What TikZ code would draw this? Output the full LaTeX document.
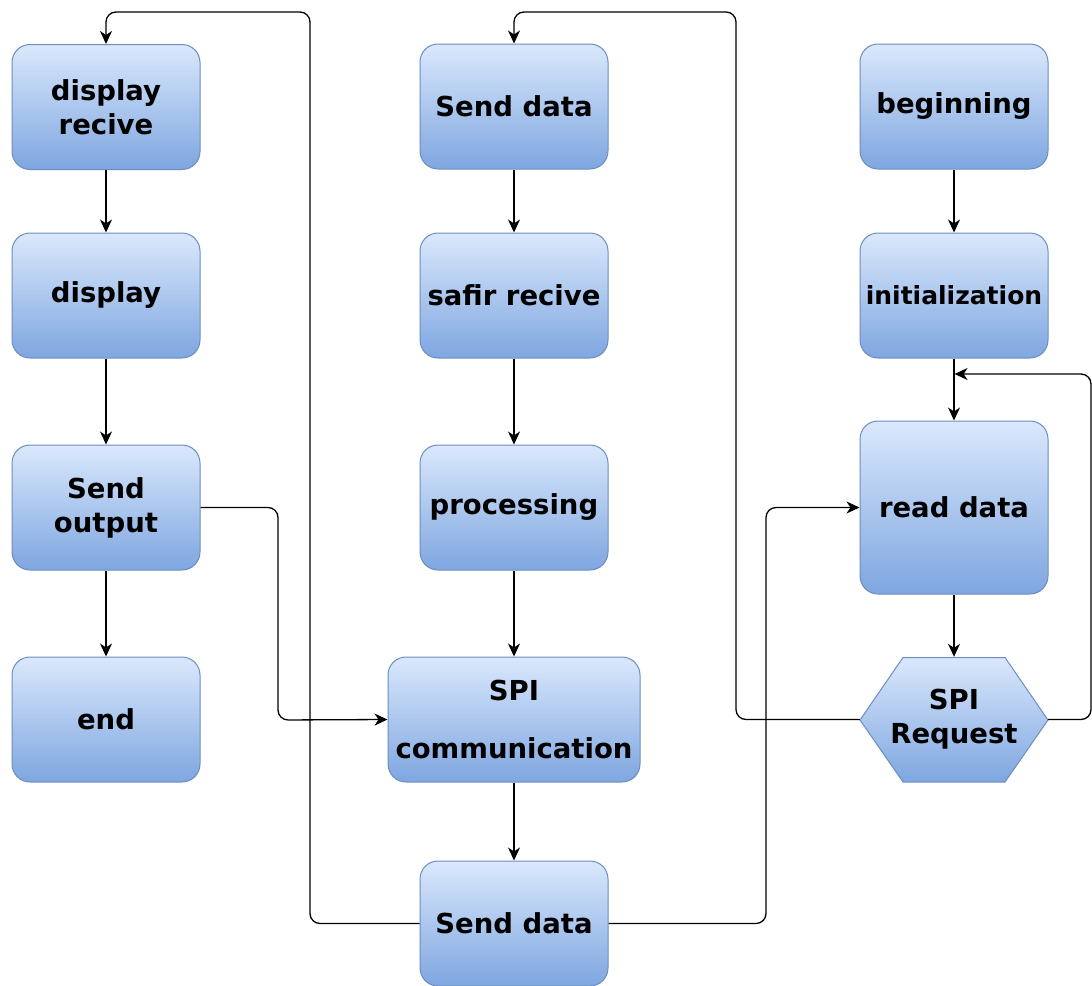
\documentclass[tikz,border=0pt]{standalone}
\usepackage{fontspec}
\setmainfont{DejaVu Sans}
\usetikzlibrary{arrows.meta,calc}
\definecolor{boxtop}{HTML}{DAE8FC}
\definecolor{boxbot}{HTML}{7EA6E0}
\definecolor{boxline}{HTML}{6C8EBF}
\tikzset{
  box/.style={draw=boxline, line width=1pt, rounded corners=18pt, top color=boxtop, bottom color=boxbot,
    minimum width=188pt, minimum height=125pt, align=center, inner sep=0pt,
    font=\fontsize{27.5}{34}\selectfont\bfseries},
  hexbox/.style={minimum width=188pt, minimum height=125pt, align=center, inner sep=0pt,
    font=\fontsize{27.5}{34}\selectfont\bfseries},
  conn/.style={draw=black, line width=1.3pt, rounded corners=10pt, -{Stealth[length=13pt,width=12pt,inset=4pt]}},
}
\begin{document}
\begin{tikzpicture}[x=1pt,y=-1pt]
\useasboundingbox (0,0) rectangle (1092,985);
% left column
\node[box] (dr) at (106,107) {display\\recive};
\node[box] (dp) at (106,295.5) {display};
\node[box] (so) at (106,507.5) {Send\\output};
\node[box] (en) at (106,719.5) {end};
% middle column
\node[box] (sd1) at (514,106.5) {Send data};
\node[box] (sr) at (514,295.5) {safir recive};
\node[box] (pr) at (514,507.5) {processing};
\node[box, minimum width=252pt] (spi) at (514,719.5) {SPI\\[24pt]communication};
\node[box] (sd2) at (514,923.5) {Send data};
% right column
\node[box] (bg) at (954,106.5) {beginning};
\node[box, font=\fontsize{25}{30}\selectfont\bfseries] (in) at (954,295.5) {initialization};
\node[box, minimum height=173pt] (rd) at (954,507.5) {read data};
\shade[top color=boxtop, bottom color=boxbot] (860,720) -- (903,657.5) -- (1005,657.5) -- (1048,720) -- (1005,782) -- (903,782) -- cycle;
\draw[boxline, line width=1pt] (860,720) -- (903,657.5) -- (1005,657.5) -- (1048,720) -- (1005,782) -- (903,782) -- cycle;
\node[hexbox] (sq) at (954,719.5) {SPI\\Request};
% vertical arrows
\draw[conn] (dr) -- (dp);
\draw[conn] (dp) -- (so);
\draw[conn] (so) -- (en);
\draw[conn] (sd1) -- (sr);
\draw[conn] (sr) -- (pr);
\draw[conn] (pr) -- (spi);
\draw[conn] (spi) -- (sd2);
\draw[conn] (bg) -- (in);
\draw[conn] (in) -- (rd);
\draw[conn] (rd) -- (sq.north);
% routed connectors
\draw[conn] (so.east) -- (278,507.5) -- (278,720) -- (spi.west);
\draw[conn] (sd2.west) -- (310,923.5) -- (310,12) -- (106,12) -- (dr.north);
\draw[conn] (sd2.east) -- (766,923.5) -- (766,507.5) -- (rd.west);
\draw[conn] (sq.west) -- (736,719.5) -- (736,12) -- (514,12) -- (sd1.north);
\coordinate (loopend) at (954.6,374);
\draw[conn] (sq.east) -- (1091,719.5) -- (1091,374) -- (loopend);
\end{tikzpicture}
\end{document}
